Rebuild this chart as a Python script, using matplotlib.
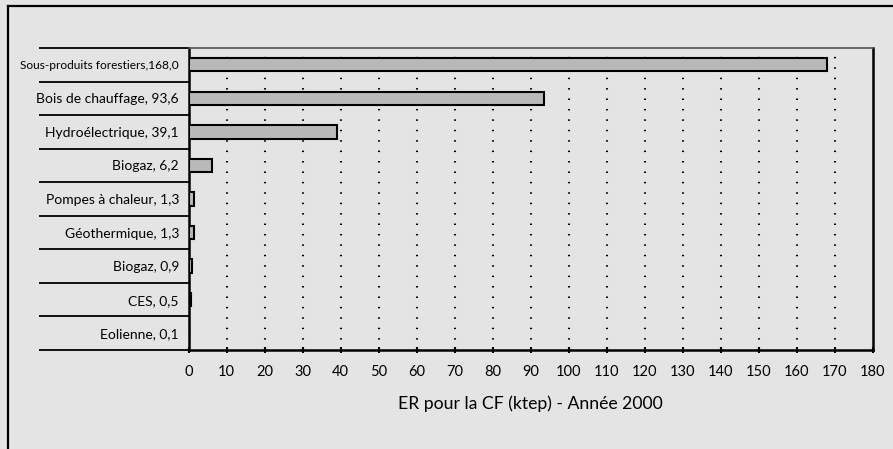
''' Bar chart of renewable energy (ER) for the CF, year 2000. '''
import numpy as np
import matplotlib.pyplot as plt
from matplotlib.lines import Line2D

labels = ['Sous-produits forestiers,168,0', 'Bois de chauffage, 93,6',
          'Hydroélectrique, 39,1', 'Biogaz, 6,2', 'Pompes à chaleur, 1,3',
          'Géothermique, 1,3', 'Biogaz, 0,9', 'CES, 0,5', 'Eolienne, 0,1']
values = [168.0, 93.6, 39.1, 6.2, 1.3, 1.3, 0.9, 0.5, 0.1]
xticks = np.arange(0, 181, 10)

bg = '#e4e4e4'
plt.rcParams['font.family'] = ['Lato', 'DejaVu Sans']

fig = plt.figure(figsize=(8.93, 4.49), dpi=100, facecolor=bg)
ax = fig.add_axes([0.2113, 0.2205, 0.7659, 0.6726], facecolor=bg)

n = len(values)
ypos = np.arange(n)[::-1]
ax.barh(ypos, values, height=0.4, color='#b9b9b9', edgecolor='black',
        linewidth=1.5, zorder=3)

ax.set_xlim(0, 180)
ax.set_ylim(-0.5, n - 0.5)

# dotted vertical grid
for x in xticks[1:-1]:
    ax.axvline(x, color='black', linestyle=(0, (0.7, 4.3)), linewidth=1.5, zorder=1)

ax.set_xticks(xticks)
ax.set_xticklabels([str(x) for x in xticks], fontsize=10.5)
ax.tick_params(axis='x', direction='inout', length=5, width=1.5, pad=8)

# category separators as long ticks, labels at centres
ax.set_yticks(np.arange(-0.5, n, 1.0))
ax.set_yticklabels([])
ax.tick_params(axis='y', which='major', direction='out', length=108, width=1.3)
ax.set_yticks(ypos, minor=True)
ax.set_yticklabels(labels, minor=True, fontsize=10)
ax.tick_params(axis='y', which='minor', length=0, pad=7)
ax.get_yticklabels(minor=True)[0].set_fontsize(8.6)

for side in ['left', 'bottom', 'right']:
    ax.spines[side].set_linewidth(1.8)
ax.spines['top'].set_color('#555555')
ax.spines['top'].set_linewidth(1.2)

ax.set_xlabel('ER pour la CF (ktep) - Année 2000', fontsize=12.7, labelpad=12)

# outer frame (cropped at right and bottom)
fig.add_artist(Line2D([8 / 893, 8 / 893], [0, 1 - 6 / 449], transform=fig.transFigure,
                      color='black', linewidth=1.6))
fig.add_artist(Line2D([8 / 893, 1], [1 - 6 / 449, 1 - 6 / 449], transform=fig.transFigure,
                      color='black', linewidth=1.6))

fig.savefig('out.png', dpi=100, facecolor=bg)
